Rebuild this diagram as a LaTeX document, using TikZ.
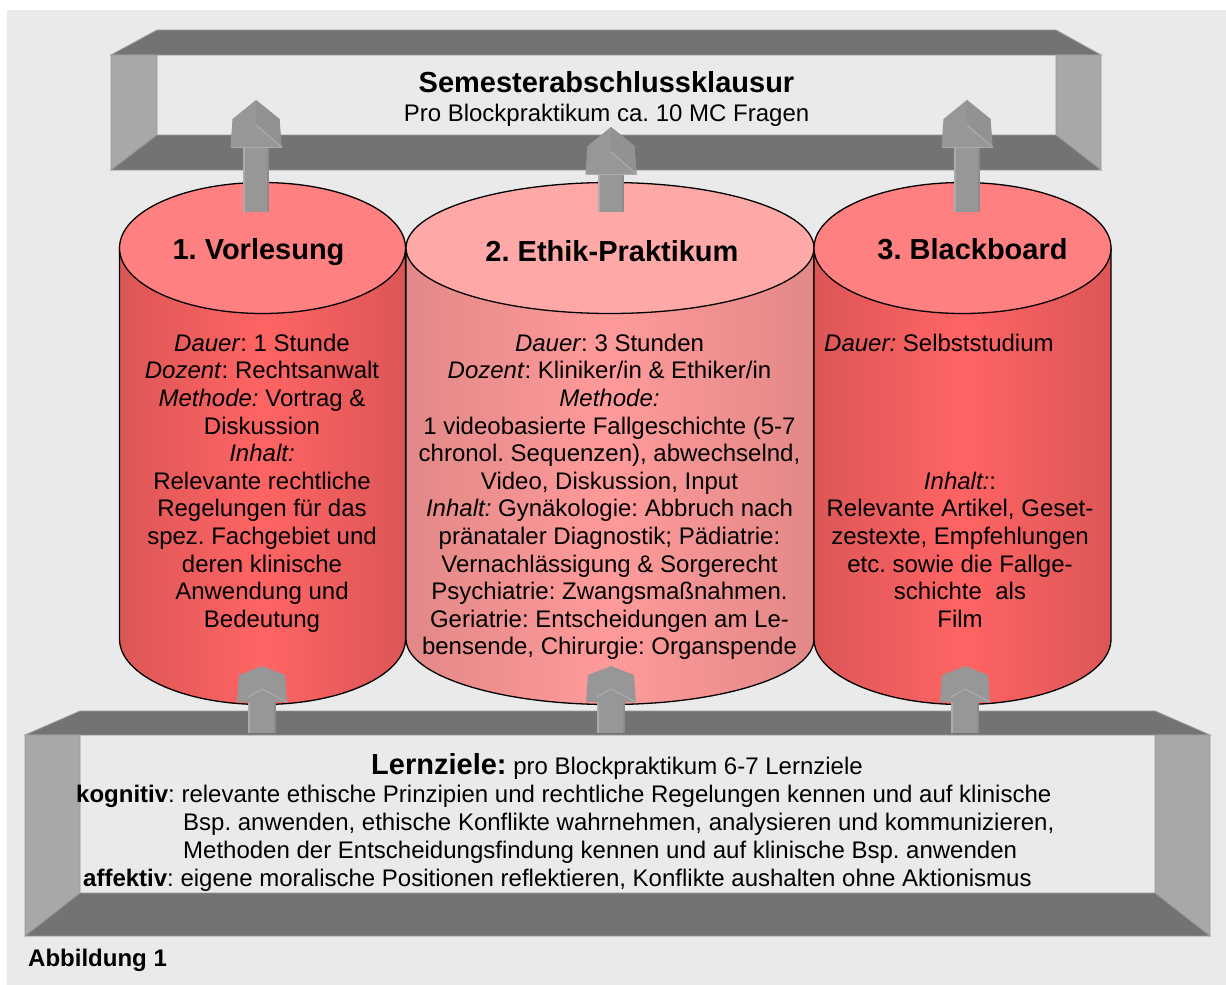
\documentclass[tikz,border=0pt]{standalone}
\usepackage{fontspec}
\setmainfont{Liberation Sans}
\frenchspacing
\definecolor{bggray}{HTML}{EAEAEA}
\definecolor{banddark}{HTML}{737373}
\definecolor{bandside}{HTML}{A8A8A8}
\definecolor{bandedge}{HTML}{9A9A9A}
\definecolor{arrowface}{HTML}{979797}
\definecolor{arrowshade}{HTML}{8C8C8C}
\definecolor{arrowhi}{HTML}{ABABAB}
\definecolor{redtop}{HTML}{FF8080}
\definecolor{rededge}{HTML}{DC5656}
\definecolor{redmid}{HTML}{FF6464}
\definecolor{pinktop}{HTML}{FFA8A8}
\definecolor{pinkedge}{HTML}{E28888}
\definecolor{pinkmid}{HTML}{FF9A9A}
\tikzset{
  pics/toparrow/.style={code={
    \fill[arrowface] (-13,47) rectangle (13,#1);
    \fill[arrowhi] (-13,47) rectangle (-11,#1);
    \fill[arrowshade] (11,47) rectangle (13,#1);
    \fill[arrowface] (0,0) -- (-23.5,19) -- (-25.5,47) -- (25.5,47) -- (23.5,19) -- cycle;
    \fill[arrowshade!50!arrowface] (0,0) -- (23.5,19) -- (25.5,47) -- (0,25) -- cycle;
    \draw[arrowhi, line width=1.2pt] (0,25) -- (25.5,47);
    \draw[arrowhi, line width=0.8pt] (-25.5,47) -- (25.5,47);
  }},
  pics/botarrow/.style={code={
    \fill[arrowface] (-14,36) rectangle (14,67);
    \fill[arrowhi] (-14,36) rectangle (-12,67);
    \fill[arrowshade] (12,36) rectangle (14,67);
    \fill[arrowface] (0,0) -- (-23,9) -- (-25,36) -- (25,36) -- (23,9) -- cycle;
    \draw[arrowhi, line width=1.2pt] (-14,31) -- (0,23) -- (25,36);
  }}
}
\newcommand\mycyl[5]{%
  \shadedraw[left color=#3, right color=#3, middle color=#4, draw=black, line width=1.3pt]
    (#1-#2,248) -- (#1-#2,639) arc[start angle=180, end angle=360, x radius=#2pt, y radius=65.5pt] -- (#1+#2,248) -- cycle;
  \filldraw[fill=#5, draw=black, line width=1.3pt] (#1,248) ellipse[x radius=#2pt, y radius=65.5pt];
}
\begin{document}
\begin{tikzpicture}[x=1pt,y=-1pt,
  bodytext/.style={font=\fontsize{24}{27.6}\selectfont, inner sep=0pt, align=center, text=black},
  linetext/.style={font=\fontsize{24}{27.6}\selectfont, inner sep=0pt, text=black},
  titletext/.style={font=\fontsize{29}{33}\selectfont\bfseries, inner sep=0pt, text=black},
  band/.style={fill=banddark, draw=bandedge, line width=0.8pt},
  sidepanel/.style={fill=bandside, draw=bandedge, line width=0.8pt}]
\useasboundingbox (0,0) rectangle (1226,985);
\fill[bggray] (7,10) rectangle (1226,985);

% top frame
\fill[band] (111,55) -- (157,30) -- (1056,30) -- (1101,55) -- cycle;
\fill[sidepanel] (111,55) -- (157,55) -- (157,135) -- (111,170) -- cycle;
\fill[sidepanel] (1056,55) -- (1101,55) -- (1101,170) -- (1056,135) -- cycle;
\fill[band] (157,135) -- (1056,135) -- (1101,170) -- (111,170) -- cycle;

% cylinders
\mycyl{262.5}{143}{rededge}{redmid}{redtop}
\mycyl{610}{204}{pinkedge}{pinkmid}{pinktop}
\mycyl{962.5}{148.5}{rededge}{redmid}{redtop}

% bottom frame
\fill[band] (25,735) -- (80,711) -- (1155,711) -- (1210,735) -- cycle;
\fill[sidepanel] (25,735) -- (80,735) -- (80,893) -- (25,936) -- cycle;
\fill[sidepanel] (1155,735) -- (1210,735) -- (1210,936) -- (1155,893) -- cycle;
\fill[band] (80,893) -- (1155,893) -- (1210,936) -- (25,936) -- cycle;

% arrows
\coordinate (up1) at (256,100);
\coordinate (up2) at (611,127);
\coordinate (up3) at (967,100);
\coordinate (lo1) at (262,666);
\coordinate (lo2) at (611,666);
\coordinate (lo3) at (965,666);
\pic at (up1) {toparrow=112};
\pic at (up2) {toparrow=85};
\pic at (up3) {toparrow=112};
\pic at (lo1) {botarrow};
\pic at (lo2) {botarrow};
\pic at (lo3) {botarrow};

% texts
\node[titletext, anchor=base] (semtitle) at (606.5,92) {Semesterabschlussklausur};
\node[linetext, anchor=base] (semsub) at (606.5,121) {Pro Blockpraktikum ca. 10 MC Fragen};

\node[titletext, anchor=base] (t1) at (258.5,259) {1. Vorlesung};
\node[titletext, anchor=base] (t2) at (612,261) {2. Ethik-Praktikum};
\node[titletext, anchor=base] (t3) at (972.5,259) {3. Blackboard};

\node[bodytext, anchor=north] (b1) at (262,333.7) {\textit{Dauer}: 1 Stunde\\
\textit{Dozent}: Rechtsanwalt\\
\textit{Methode:} Vortrag \&\\
Diskussion\\
\textit{Inhalt:}\\
Relevante rechtliche\\
Regelungen für das\\
spez. Fachgebiet und\\
deren klinische\\
Anwendung und\\
Bedeutung};

\node[bodytext, anchor=north] (b2) at (609.5,333.7) {\textit{Dauer}: 3 Stunden\\
\textit{Dozent}: Kliniker/in \& Ethiker/in\\
\textit{Methode:}\\
1 videobasierte Fallgeschichte (5-7\\
chronol. Sequenzen), abwechselnd,\\
Video, Diskussion, Input\\
\textit{Inhalt:} Gynäkologie: Abbruch nach\\
pränataler Diagnostik; Pädiatrie:\\
Vernachlässigung \& Sorgerecht\\
Psychiatrie: Zwangsmaßnahmen.\\
Geriatrie: Entscheidungen am Le-\\
bensende, Chirurgie: Organspende};

\node[linetext, anchor=base west] (b3a) at (824,351) {\textit{Dauer:} Selbststudium};
\node[bodytext, anchor=north] (b3b) at (960,471.7) {\textit{Inhalt:}:\\
Relevante Artikel, Geset-\\
zestexte, Empfehlungen\\
etc. sowie die Fallge-\\
schichte\ \ als\\
Film};

\node[linetext, anchor=base] (lz) at (617,774) {{\fontsize{29}{33}\selectfont\bfseries Lernziele:} pro Blockpraktikum 6-7 Lernziele};
\node[linetext, anchor=base west] (lz1) at (76,802) {\textbf{kognitiv}: relevante ethische Prinzipien und rechtliche Regelungen kennen und auf klinische};
\node[linetext, anchor=base west] (lz2) at (183,830) {Bsp. anwenden, ethische Konflikte wahrnehmen, analysieren und kommunizieren,};
\node[linetext, anchor=base west] (lz3) at (183,858) {Methoden der Entscheidungsfindung kennen und auf klinische Bsp. anwenden};
\node[linetext, anchor=base west] (lz4) at (83,886) {\textbf{affektiv}: eigene moralische Positionen reflektieren, Konflikte aushalten ohne Aktionismus};

\node[linetext, anchor=base west, font=\fontsize{24}{27.6}\selectfont\bfseries] (abb) at (28,966) {Abbildung 1};
\end{tikzpicture}
\end{document}
